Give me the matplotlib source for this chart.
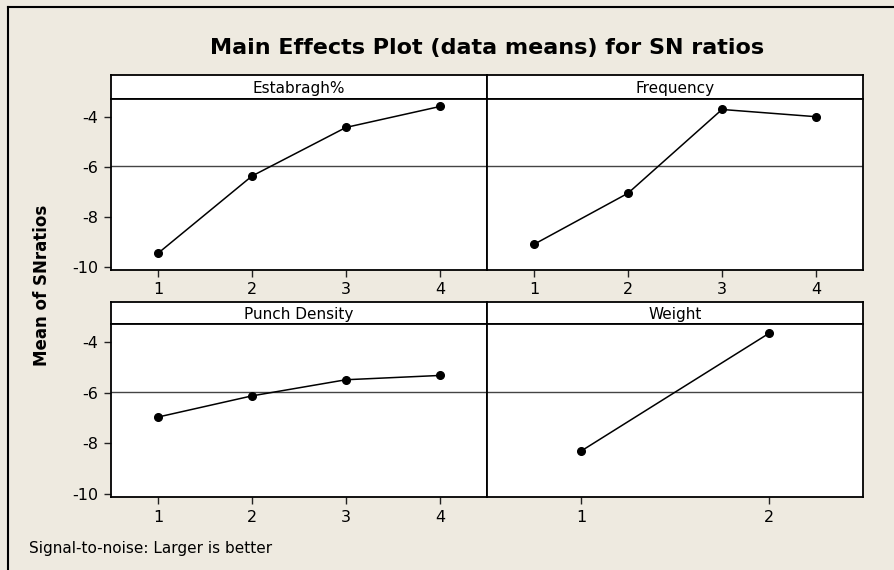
import matplotlib
matplotlib.use("Agg")
import matplotlib.pyplot as plt
from matplotlib.lines import Line2D
import numpy as np

# Mean SN ratios per factor level
estabragh = [-9.46, -6.36, -4.41, -3.57]
frequency = [-9.10, -7.05, -3.69, -3.98]
punch_density = [-6.96, -6.12, -5.48, -5.31]
weight = [-8.31, -3.64]

panel_names = ["Estabragh%", "Frequency", "Punch Density", "Weight"]
panel_values = [estabragh, frequency, punch_density, weight]
y_ticks = [-4, -6, -8, -10]
grand_mean = -5.96  # reference line drawn in every panel

W, H = 894, 570
bg = "#EEEAE0"
plt.rcParams['font.family'] = ['DejaVu Sans']
plt.rcParams['axes.unicode_minus'] = False
fig = plt.figure(figsize=(W / 100, H / 100), dpi=100, facecolor=bg)


def px(x0, y0, x1, y1):
    # pixel box (top-left origin) -> figure fraction rect
    return [x0 / W, 1 - y1 / H, (x1 - x0) / W, (y1 - y0) / H]


cols = [(111, 487), (487, 863)]
rows = [((75, 99), (99, 270)), ((302, 324), (324, 497))]

for i, (name, vals) in enumerate(zip(panel_names, panel_values)):
    r, c = divmod(i, 2)
    (sy0, sy1), (ay0, ay1) = rows[r]
    x0, x1 = cols[c]

    # strip label
    sax = fig.add_axes(px(x0, sy0, x1, sy1))
    sax.set_facecolor("white")
    sax.set_xticks([])
    sax.set_yticks([])
    for s in sax.spines.values():
        s.set_linewidth(1.3)
    sax.text(0.5, 0.45, name, ha="center", va="center", fontsize=11,
             transform=sax.transAxes)

    ax = fig.add_axes(px(x0, ay0, x1, ay1))
    ax.set_facecolor("white")
    levels = np.arange(1, len(vals) + 1)
    ax.axhline(grand_mean, color="#444444", linewidth=1.0, zorder=1)
    ax.plot(levels, vals, color="black", linewidth=1.1, marker="o",
            markersize=5.5, zorder=3)
    ax.set_xlim(0.5, len(vals) + 0.5)
    ax.set_ylim(-10.13, -3.27)
    ax.set_xticks(levels)
    ax.set_yticks(y_ticks)
    ax.tick_params(direction="out", length=5, width=1, labelsize=11.5,
                   color="#222222", pad=4)
    if c == 1:
        ax.tick_params(axis="y", left=False, labelleft=False)
    for s in ax.spines.values():
        s.set_linewidth(1.3)

fig.text(487 / W, 1 - 48 / H, "Main Effects Plot (data means) for SN ratios",
         ha="center", va="center", fontsize=16, fontweight="bold")
fig.text(42 / W, 1 - 285 / H, "Mean of SNratios", rotation=90,
         ha="center", va="center", fontsize=12, fontweight="bold")
fig.text(29 / W, 1 - 548 / H, "Signal-to-noise: Larger is better",
         ha="left", va="center", fontsize=11)

# outer frame lines (top and left only visible)
fig.add_artist(Line2D([8 / W, 8 / W], [1 - 7 / H, 0], color="black", linewidth=1.5))
fig.add_artist(Line2D([8 / W, 1], [1 - 7 / H, 1 - 7 / H], color="black", linewidth=1.5))

fig.savefig("out.png", dpi=100, facecolor=bg)
